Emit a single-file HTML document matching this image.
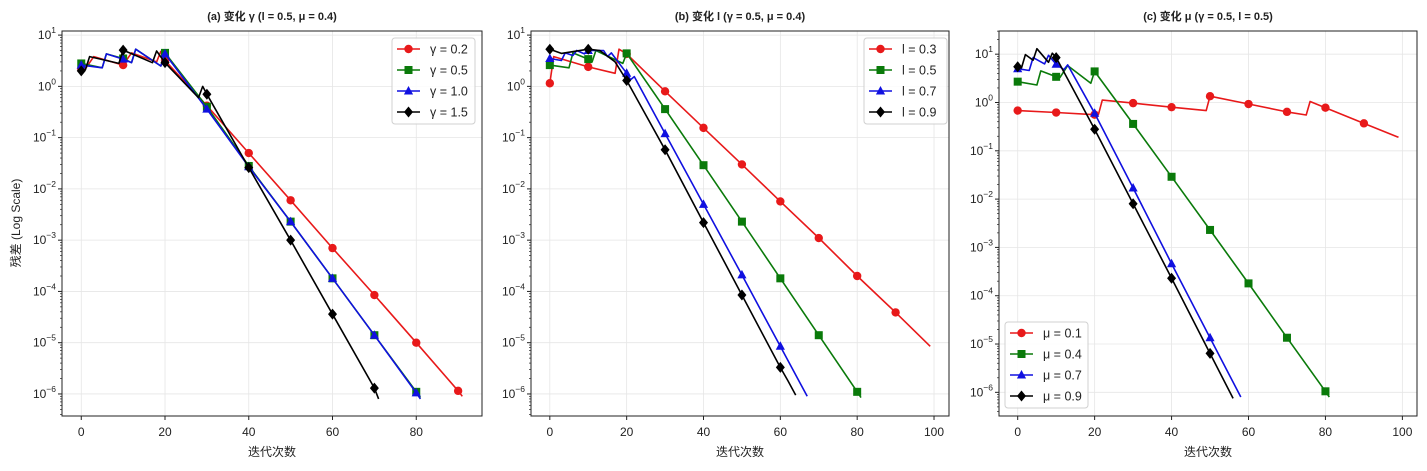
<!DOCTYPE html>
<html><head><meta charset="utf-8"><style>
body{margin:0;background:#fff}
svg{display:block;font-family:"Liberation Sans","Noto Sans CJK SC",sans-serif}
</style></head><body>
<svg id="chart" width="1427" height="471" viewBox="0 0 1427 471"></svg>
<script>
// ---- data (x = iteration, v = residual) ----
const xTicksA = [0,20,40,60,80];
const xTicksBC = [0,20,40,60,80,100];
const titles = ["(a) 变化 γ (l = 0.5, μ = 0.4)","(b) 变化 l (γ = 0.5, μ = 0.4)","(c) 变化 μ (γ = 0.5, l = 0.5)"];
const labelsA = ["γ = 0.2","γ = 0.5","γ = 1.0","γ = 1.5"];
const labelsB = ["l = 0.3","l = 0.5","l = 0.7","l = 0.9"];
const labelsC = ["μ = 0.1","μ = 0.4","μ = 0.7","μ = 0.9"];
// panel a
const a1x=[0,1,3,10,12,18,19,20,30,40,50,60,70,80,90,91];
const a1v=[2.2,2.2,3.8,2.6,4.5,3,4.8,3.2,0.42,0.05,0.006,7e-4,8.5e-5,1e-5,1.15e-6,0.9e-6];
const a2x=[0,5,6,10,12,13,19,20,30,40,50,60,70,80,81];
const a2v=[2.8,2.3,4.3,3.5,2.9,5.3,2.5,4.5,0.4,0.028,0.0023,1.8e-4,1.4e-5,1.1e-6,0.85e-6];
const a3x=[0,5,6,10,12,13,19,20,30,40,50,60,70,80,81];
const a3v=[2.6,2.3,4.3,3.4,2.9,5.3,2.5,4.3,0.36,0.027,0.0023,1.8e-4,1.4e-5,1.05e-6,0.8e-6];
const a4x=[0,1,2,9,10,17,18,20,28,29,30,40,50,60,70,71];
const a4v=[2.0,2.1,3.8,2.8,5.1,2.9,4.9,2.9,0.6,1.0,0.7,0.026,1e-3,3.6e-5,1.3e-6,0.8e-6];
// panel b
const b1x=[0,1,10,17,18,20,30,40,50,60,70,80,90,99];
const b1v=[1.15,3.8,2.4,1.8,5.3,4.3,0.8,0.155,0.03,0.0057,0.0011,2e-4,3.9e-5,8.5e-6];
const b2x=[0,5,6,10,11,12,19,20,30,40,50,60,70,80,81];
const b2v=[2.6,2.3,4.5,3.4,3.0,5,2.8,4.4,0.36,0.029,0.0023,1.8e-4,1.4e-5,1.1e-6,0.85e-6];
const b3x=[0,3,4,6,7,9,10,14,15,16,20,21,22,30,40,50,60,67];
const b3v=[3.5,3.2,4.5,4,5,4.3,5,5,3.8,4.5,1.8,1.35,1.55,0.12,0.005,2.1e-4,8.5e-6,0.9e-6];
const b4x=[0,3,10,13,17,20,30,40,50,60,62,64];
const b4v=[5.3,4.4,5.3,5,3,1.3,0.058,0.0022,8.5e-5,3.3e-6,1.8e-6,0.95e-6];
// panel c
const c1x=[0,10,20,21,22,30,40,49,50,60,70,75,76,80,90,99];
const c1v=[0.68,0.62,0.56,0.57,1.12,0.97,0.8,0.68,1.35,0.93,0.64,0.55,1.05,0.78,0.37,0.19];
const c2x=[0,5,6,10,11,13,19,20,30,40,50,60,70,80,81];
const c2v=[2.7,2.3,4.5,3.4,3.3,5.8,2.5,4.4,0.36,0.029,2.3e-3,1.8e-4,1.35e-5,1.05e-6,0.8e-6];
const c3x=[0,3,4,7,8,10,12,13,20,30,40,50,58];
const c3v=[5,4.6,8.5,6.3,9.5,6.2,4.8,6,0.6,0.017,4.6e-4,1.35e-5,0.8e-6];
const c4x=[0,1,2,4,5,8,9,10,20,30,40,50,56];
const c4v=[5.5,5.2,9.8,7.5,13,6.8,10.5,8.5,0.28,0.008,2.3e-4,6.4e-6,0.75e-6];

const NS="http://www.w3.org/2000/svg";
const svg=document.getElementById('chart');
function mk(tag,attrs,parent){const e=document.createElementNS(NS,tag);for(const k in attrs)e.setAttribute(k,attrs[k]);(parent||svg).appendChild(e);return e;}
const colors=["#e8191a","#0a7a0a","#1010e0","#000000"];
const shapes=["circle","square","triangle","diamond"];

function marker(g,shape,x,y,c){
  let e;
  if(shape==="circle") e=mk('circle',{cx:x,cy:y,r:4.2,fill:c},g);
  else if(shape==="square") e=mk('rect',{x:x-4,y:y-4,width:8,height:8,fill:c},g);
  else if(shape==="triangle") e=mk('polygon',{points:`${x},${y-5} ${x+4.6},${y+3.5} ${x-4.6},${y+3.5}`,fill:c},g);
  else e=mk('polygon',{points:`${x},${y-5.5} ${x+4.5},${y} ${x},${y+5.5} ${x-4.5},${y}`,fill:c},g);
  
  
}

function panel(cfg){
  const {L,R,T,B,x0,x1,ly0,ly1,xTicks,series,labels,title,legend,name}=cfg;
  const g=mk('g',{});
  
  
  const X=v=>L+(v-x0)/(x1-x0)*(R-L);
  const Y=v=>T+(ly1-Math.log10(v))/(ly1-ly0)*(B-T);
  const grid=mk('g',{},g);
  
  
  xTicks.forEach(t=>mk('line',{x1:X(t),x2:X(t),y1:T,y2:B,stroke:'#e6e6e6','stroke-width':0.8},grid));
  const emin=Math.ceil(ly0),emax=Math.floor(ly1);
  for(let e=emin;e<=emax;e++) mk('line',{x1:L,x2:R,y1:Y(Math.pow(10,e)),y2:Y(Math.pow(10,e)),stroke:'#e6e6e6','stroke-width':0.8},grid);
  series.forEach((s,i)=>{
    const sg=mk('g',{},g);
    
    
    const pts=s[0].map((x,j)=>X(x).toFixed(1)+','+Y(s[1][j]).toFixed(1)).join(' ');
    mk('polyline',{points:pts,fill:'none',stroke:colors[i],'stroke-width':1.6,'stroke-linejoin':'round'},sg);
    s[0].forEach((x,j)=>{if(x%10===0) marker(sg,shapes[i],X(x),Y(s[1][j]),colors[i]);});
  });
  const fr=mk('rect',{x:L,y:T,width:R-L,height:B-T,fill:'none',stroke:'#222','stroke-width':1},g);
  
  
  xTicks.forEach(t=>{
    mk('line',{x1:X(t),x2:X(t),y1:B,y2:B+4,stroke:'#222'},g);
    const tx=mk('text',{x:X(t),y:B+20,'text-anchor':'middle','font-size':12,fill:'#222'},g);
    tx.textContent=t;
    
    
  });
  for(let e=Math.floor(ly0);e<=Math.ceil(ly1);e++){
    for(let m=1;m<10;m++){
      const lv=e+Math.log10(m);
      if(lv<ly0||lv>ly1) continue;
      const y=Y(Math.pow(10,lv));
      mk('line',{x1:L-(m===1?4:2),x2:L,y1:y,y2:y,stroke:'#222','stroke-width':m===1?1:0.7},g);
      if(m===1){
        const tx=mk('text',{x:L-6,y:y+4,'text-anchor':'end','font-size':12,fill:'#222'},g);
        
        
        const t1=mk('tspan',{},tx);t1.textContent='10';
        const t2=mk('tspan',{dy:-6,'font-size':8.5},tx);t2.textContent=(e<0?'−':'')+Math.abs(e);
      }
    }
  }
  const tt=mk('text',{x:(L+R)/2,y:T-11,'text-anchor':'middle','font-size':11,'font-weight':'bold',fill:'#222'},g);
  tt.textContent=title;
  
  
  const xl=mk('text',{x:(L+R)/2,y:B+40,'text-anchor':'middle','font-size':12,fill:'#222'},g);
  xl.textContent='迭代次数';
  
  
  const lg=mk('g',{},g);
  
  
  mk('rect',{x:legend[0],y:legend[1],width:83,height:86,rx:3,fill:'#fff','fill-opacity':0.85,stroke:'#d0d0d0'},lg);
  labels.forEach((lab,i)=>{
    const y=legend[1]+11+i*21;
    const en=mk('g',{},lg);
    
    
    mk('line',{x1:legend[0]+5,x2:legend[0]+28,y1:y,y2:y,stroke:colors[i],'stroke-width':1.6},en);
    marker(en,shapes[i],legend[0]+16.5,y,colors[i]);
    const t=mk('text',{x:legend[0]+38,y:y+4.5,'font-size':12.5,fill:'#222'},en);
    t.textContent=lab;
  });
}

panel({name:'panel-a',L:62,R:482,T:31,B:416,x0:-4.6,x1:95.7,ly0:-6.43,ly1:1.08,xTicks:xTicksA,
  series:[[a1x,a1v],[a2x,a2v],[a3x,a3v],[a4x,a4v]],labels:labelsA,title:titles[0],legend:[392,38]});
panel({name:'panel-b',L:531,R:949,T:31,B:416,x0:-4.9,x1:103.9,ly0:-6.43,ly1:1.08,xTicks:xTicksBC,
  series:[[b1x,b1v],[b2x,b2v],[b3x,b3v],[b4x,b4v]],labels:labelsB,title:titles[1],legend:[864,38]});
panel({name:'panel-c',L:999,R:1417,T:31,B:416,x0:-4.86,x1:103.8,ly0:-6.49,ly1:1.48,xTicks:xTicksBC,
  series:[[c1x,c1v],[c2x,c2v],[c3x,c3v],[c4x,c4v]],labels:labelsC,title:titles[2],legend:[1005,322]});

const yl=mk('text',{x:20,y:223,'text-anchor':'middle','font-size':12,fill:'#222',transform:'rotate(-90 20 223)'});
yl.textContent='残差 (Log Scale)';


</script>
</body></html>
